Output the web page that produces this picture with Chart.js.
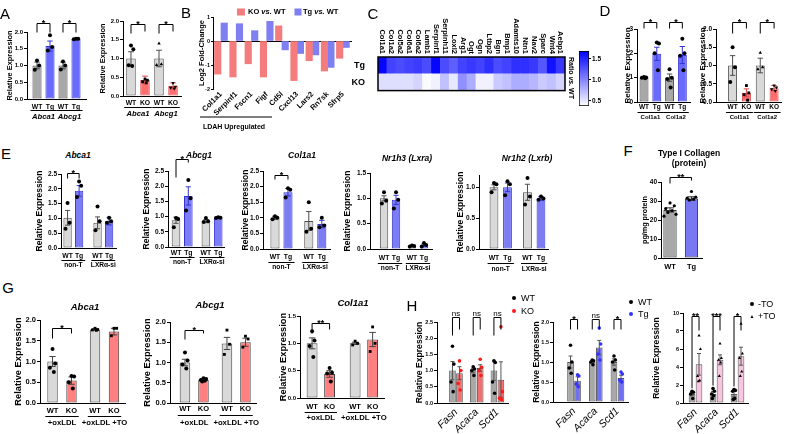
<!DOCTYPE html>
<html lang="en">
<head>
<meta charset="UTF-8">
<title>LDAH expression figure</title>
<script src="https://cdn.jsdelivr.net/npm/chart.js"></script>
<style>
  body { margin: 0; background: #fff; }
  #fig { position: relative; width: 787px; height: 434px; overflow: hidden;
         font-family: 'Liberation Sans', Arial, sans-serif; color: #000; }
  #fig canvas { position: absolute; }
  .lbl { position: absolute; white-space: nowrap; line-height: 1; transform: translate(-50%, -50%); }
  .letter { font-size: 15px; }
  .ttl { font-weight: bold; font-style: italic; font-size: 8.5px; }
  .gttl { font-weight: bold; font-style: italic; font-size: 9.5px; }
  .leg { transform: translate(0, -50%); font-size: 9px; }
</style>
</head>
<body>
<div id="fig"></div>
<script>
// ---------- data ----------
const wtTg = ['WT', 'Tg', 'WT', 'Tg'];
const wtKo = ['WT', 'KO', 'WT', 'KO'];

// A
const aGenes = ['Abca1', 'Abcg1'];
const aTgMeans = [1.0, 1.58, 1.0, 1.79];
const aTgSem = [0.1, 0.15, 0.1, 0.01];
const aTgPoints = [[1.15, 1.0, 0.87], [1.9, 1.55, 1.45], [1.12, 1.0, 0.88], [1.8, 1.8, 1.78]];
const aKoMeans = [1.0, 0.43, 1.0, 0.27];
const aKoSem = [0.18, 0.1, 0.22, 0.08];
const aKoPoints = [[1.35, 1.25, 0.82, 0.8], [0.45, 0.42, 0.38, 0.35], [1.4, 0.85, 0.83], [0.35, 0.25, 0.22, 0.2]];
const aSig = [[0, 1, '*'], [2, 3, '*']];

// B
const bGenes = ['Col1a1', 'Serpinf1', 'Fscn1', 'Figf', 'Cd5l', 'Cxcl13', 'Lars2', 'Rn7sk', 'Sfrp5'];
const bKO = [-1.38, -1.5, -0.95, -1.5, 0.63, -1.65, -0.82, -1.25, -0.72];
const bTg = [0.75, 0.72, 0.43, 0.82, -0.37, -0.52, -0.58, -1.1, -0.27];

// C
const cGenes = ['Col1a1', 'Col1a2', 'Col5a2', 'Col6a1', 'Col6a2', 'Lamb1', 'Serpinf1', 'Serpinh11', 'Loxl2', 'Arg1',
  'Ogt', 'Ogn', 'Ltbp2', 'Bgn', 'Bmp1', 'Adamts10', 'Ntn1', 'Nav2', 'Sparc', 'Wnt4', 'Aebp1'];
const cTg = [1.66, 1.35, 1.3, 1.35, 1.38, 1.3, 1.66, 1.3, 1.2, 1.35, 1.4, 1.35, 1.45, 1.3, 1.35, 1.45, 1.45, 1.4, 1.25, 1.6, 1.4];
const cKO = [0.55, 0.55, 0.55, 0.55, 0.6, 0.4, 0.45, 0.7, 0.5, 0.95, 0.8, 0.45, 0.45, 0.65, 0.7, 0.8, 0.8, 0.75, 0.65, 0.7, 0.6];
const cbRange = [0.38, 1.69];
const cbTicks = [0.5, 1.0, 1.5];

// D
const dGenes = ['Col1a1', 'Col1a2'];
const dTgMeans = [1.0, 1.98, 1.0, 1.93];
const dTgSem = [0.02, 0.27, 0.15, 0.35];
const dTgPoints = [[1.03, 1.01, 1.0, 0.98], [2.45, 2.4, 2.0, 1.3], [1.35, 1.0, 0.95, 0.6], [2.6, 2.0, 1.9, 1.3]];
const dKoMeans = [1.0, 0.25, 1.0, 0.38];
const dKoSem = [0.27, 0.11, 0.2, 0.07];
const dKoPoints = [[1.5, 0.95, 0.55], [0.45, 0.25, 0.2, 0.05], [1.35, 0.95, 0.9], [0.45, 0.4, 0.35, 0.3]];

// E
const eGroups = ['non-T', 'LXR\u03b1-si'];
const eTitles = ['Abca1', 'Abcg1', 'Col1a1', 'Nr1h3 (Lxra)', 'Nr1h2 (Lxrb)'];
const eMeans = [[1.02, 1.93, 0.85, 0.9], [0.88, 1.68, 0.85, 0.97], [1.0, 1.82, 0.9, 0.8], [1.0, 0.97, 0.06, 0.08], [1.0, 1.0, 0.92, 0.82]];
const eSem = [[0.25, 0.18, 0.2, 0.12], [0.1, 0.3, 0.05, 0.02], [0.05, 0.12, 0.3, 0.12], [0.05, 0.09, 0.01, 0.02], [0.04, 0.07, 0.13, 0.03]];
const ePoints = [
  [[1.52, 0.85, 0.65], [2.25, 2.1, 1.72], [1.4, 0.9, 0.6], [1.02, 0.9, 0.85]],
  [[0.95, 0.92, 0.65], [2.2, 1.6, 1.2], [0.95, 0.85, 0.82], [0.98, 0.96, 0.95]],
  [[1.05, 1.0, 0.95], [1.95, 1.9, 1.65], [1.5, 0.65, 0.55], [1.0, 0.75, 0.7]],
  [[1.12, 0.95, 0.9], [1.12, 0.97, 0.8], [0.07, 0.06, 0.05], [0.12, 0.08, 0.05]],
  [[1.07, 1.05, 0.92], [1.1, 1.05, 0.87], [1.15, 0.85, 0.72], [0.85, 0.82, 0.8]]];
const eSig = [[[0, 1, '*']], [[0, 1, '*']], [[0, 1, '*']], [], []];

// F
const fLabels = ['WT', 'Tg'];
const fMeans = [25.3, 31.3];
const fSem = [1.1, 0.9];
const fPoints = [[29, 27.5, 26, 25, 24, 23, 22], [35, 32, 31.5, 31, 30.5]];
const fSig = [[0, 1, '**']];

// G
const gGroups = ['+oxLDL', '+oxLDL +TO'];
const gTitles = ['Abca1', 'Abcg1', 'Col1a1'];
const gMeans = [[1.0, 0.54, 1.77, 1.72], [1.0, 0.57, 1.47, 1.5], [1.0, 0.44, 1.0, 1.07]];
const gSem = [[0.12, 0.09, 0.02, 0.08], [0.08, 0.02, 0.15, 0.1], [0.1, 0.06, 0.02, 0.13]];
const gPoints = [
  [[1.3, 0.95, 0.85, 0.75], [0.65, 0.64, 0.5, 0.35], [1.8, 1.77, 1.76, 1.75], [1.8, 1.8, 1.62]],
  [[1.25, 1.05, 0.95, 0.85], [0.61, 0.59, 0.57, 0.55, 0.53], [1.8, 1.45, 1.2], [1.65, 1.58, 1.38]],
  [[1.22, 1.05, 0.95, 0.75], [0.55, 0.46, 0.45, 0.3], [1.04, 1.0, 0.97], [1.3, 1.0, 0.85]]];
const gSig = [[[0, 1, '*']], [[0, 1, '*']], [[0, 1, '**']]];

// H
const hGenes = ['Fasn', 'Acaca', 'Scd1'];
const hMeans = [[1.0, 0.92, 1.0, 1.08, 1.0, 0.72], [1.0, 0.53, 1.0, 1.36, 1.0, 0.6], [1.0, 4.3, 1.0, 4.8, 1.0, 5.2]];
const hSem = [[0.28, 0.2, 0.07, 0.1, 0.3, 0.55], [0.15, 0.1, 0.03, 0.18, 0.08, 0.07], [0.2, 1.2, 0.3, 0.55, 0.3, 1.0]];
const hPoints = [
  [[1.75, 1.2, 0.65, 0.35], [1.3, 1.0, 0.6, 0.4], [1.12, 1.05, 1.0, 0.85], [1.35, 1.1, 1.0, 0.85], [1.3, 1.25, 0.65, 0.3], [2.35, 0.35, 0.15, 0.1]],
  [[1.42, 1.0, 0.85, 0.72], [0.68, 0.65, 0.45, 0.38], [1.05, 1.03, 1.0, 0.93], [1.85, 1.45, 1.2, 1.05], [1.15, 1.05, 1.0, 0.8], [0.75, 0.7, 0.55, 0.5]],
  [[1.3, 1.2, 1.0, 0.5], [7.5, 6.0, 3.0, 2.5, 2.4], [1.6, 1.3, 1.0, 0.8, 0.5], [6.6, 5.0, 4.8, 4.5, 3.0], [1.5, 1.4, 1.3, 0.5, 0.4], [8.8, 5.5, 5.0, 3.5, 3.0]]];
const hSig = [
  [[0, 1, 'ns'], [2, 3, 'ns'], [4, 5, 'ns']],
  [[0, 1, '*'], [2, 3, 'ns'], [4, 5, '*']],
  [[0, 1, '**'], [2, 3, '***'], [4, 5, '*']]];

// ---------- helpers ----------
const FAM = "'Liberation Sans', Arial, sans-serif";
Chart.defaults.font.family = FAM;
Chart.defaults.color = '#000';

const fig = document.getElementById('fig');
const JIT = [0, 1, -1, 0.5, -0.5, 1.4, -1.4];
const GRAY = '#a8a8a8', LGRAY = '#d9d9d9', BLUE = '#6a6aff', EBLUE = '#7c7cf4', RED = '#ff6e6e', GRED = '#ff8080', PINK = '#f8c6e0';
const GE = '#4d4d4d', BE = '#3434d0', RE = '#d94a4a';

function place(x, y, w, h) {
  const c = document.createElement('canvas');
  c.width = w; c.height = h;
  c.style.left = x + 'px'; c.style.top = y + 'px';
  c.style.width = w + 'px'; c.style.height = h + 'px';
  fig.appendChild(c);
  return c;
}

function txt(html, cx, cy, cls, css) {
  const el = document.createElement('div');
  el.className = 'lbl ' + (cls || '');
  el.innerHTML = html;
  el.style.left = cx + 'px';
  el.style.top = cy + 'px';
  if (css) el.style.cssText += css;
  fig.appendChild(el);
}

function heat(v) {
  const t = Math.min(1, Math.max(0, (v - cbRange[0]) / (cbRange[1] - cbRange[0])));
  const c = Math.round(255 * (1 - t));
  return `rgb(${c},${c},255)`;
}

// error bars, significance brackets and group labels
const decor = {
  id: 'decor',
  afterDatasetDraw(chart, args, o) {
    if (args.index !== 0 || !o.sem) return;
    const ctx = chart.ctx, ys = chart.scales.y;
    ctx.save();
    ctx.lineWidth = 1;
    args.meta.data.forEach((bar, i) => {
      const top = ys.getPixelForValue(o.means[i] + o.sem[i]);
      const bot = ys.getPixelForValue(Math.max(0, o.means[i] - o.sem[i]));
      const w = bar.width * 0.3;
      ctx.strokeStyle = o.eb[i];
      ctx.beginPath();
      ctx.moveTo(bar.x, top); ctx.lineTo(bar.x, bot);
      ctx.moveTo(bar.x - w, top); ctx.lineTo(bar.x + w, top);
      ctx.moveTo(bar.x - w, bot); ctx.lineTo(bar.x + w, bot);
      ctx.stroke();
    });
    ctx.restore();
  },
  afterDraw(chart, args, o) {
    const ctx = chart.ctx, area = chart.chartArea, ys = chart.scales.y;
    const bars = chart.getDatasetMeta(0).data;
    ctx.save();
    ctx.strokeStyle = '#000'; ctx.fillStyle = '#000'; ctx.lineWidth = 1;
    ctx.textAlign = 'center';
    (o.groups || []).forEach((g, k) => {
      const a = bars[k * 2], b = bars[k * 2 + 1];
      const x1 = a.x - a.width / 2 - 2, x2 = b.x + b.width / 2 + 2;
      const y = Math.round(area.bottom + o.lineOff) + 0.5;
      ctx.beginPath(); ctx.moveTo(x1, y); ctx.lineTo(x2, y); ctx.stroke();
      ctx.font = o.groupFont;
      ctx.textBaseline = 'middle';
      ctx.fillText(g, (x1 + x2) / 2, area.bottom + o.textOff);
    });
    (o.sig || []).forEach(([i, j, t]) => {
      const x1 = bars[i].x, x2 = bars[j].x;
      const y = Math.round(area.top - o.sigUp) + 0.5;
      const leg = (k, n) => n === 'a'
        ? ys.getPixelForValue(Math.max(...o.points[k], o.means[k] + o.sem[k])) - 3
        : y + n;
      ctx.beginPath();
      ctx.moveTo(x1, leg(i, o.legs[0])); ctx.lineTo(x1, y); ctx.lineTo(x2, y); ctx.lineTo(x2, leg(j, o.legs[1]));
      ctx.stroke();
      ctx.font = t === 'ns' ? `8px ${FAM}` : `bold 9px ${FAM}`;
      ctx.textBaseline = 'alphabetic';
      ctx.fillText(t, (x1 + x2) / 2, t === 'ns' ? y - 2 : y + 2);
    });
    ctx.restore();
  }
};

function yTicksFor(min, max, step) {
  const out = [];
  for (let v = min; v <= max + 1e-9; v += step) out.push({ value: +v.toFixed(4) });
  return out;
}

// one bar panel with dots, error bars, brackets
function barPanel(d, s) {
  const W = s.yW + (s.R - s.L) + s.right;
  const H = s.top + (s.B - s.T) + s.bottom;
  const cv = place(s.L - s.yW, s.T - s.top, W, H);
  const xs = d.means.map((_, i) => i + Math.floor(i / 2) * s.gap);
  const byGroup = !!s.rot;
  const tickVals = byGroup ? d.groups.map((_, g) => (xs[g * 2] + xs[g * 2 + 1]) / 2) : xs;
  const tickText = byGroup ? d.groups : d.labels;
  const pts = [];
  d.points.forEach((arr, i) => arr.forEach((v, j) => pts.push({ x: xs[i] + JIT[j] * s.jit, y: v, bar: i })));
  const shape = i => (s.shapes ? s.shapes[i] : 'circle');
  const yT = yTicksFor(0, s.yMax, s.step);
  const tf = s.titleFont;
  const titlePad = Math.max(0, s.titleX - (s.L - s.yW) - tf * 0.6);
  new Chart(cv, {
    type: 'bar',
    data: {
      datasets: [{
        data: xs.map((x, i) => ({ x, y: d.means[i] })),
        backgroundColor: s.fill, borderColor: s.edge, borderWidth: 1, borderSkipped: false,
        barPercentage: s.bp, categoryPercentage: 1, order: 2
      }, {
        type: 'scatter', data: pts, order: 1,
        pointRadius: s.pr, pointBorderWidth: 0,
        pointStyle: c => (c.raw && shape(c.raw.bar) === 'tri-inv') ? 'triangle' : (c.raw ? shape(c.raw.bar) : 'circle'),
        pointRotation: c => (c.raw && shape(c.raw.bar) === 'tri-inv') ? 180 : 0,
        pointBackgroundColor: c => c.raw ? s.dot[c.raw.bar] : '#000'
      }]
    },
    options: {
      responsive: false, animation: false, events: [],
      layout: { padding: { top: s.top, right: s.right, left: 0, bottom: 0 } },
      plugins: {
        legend: { display: false }, tooltip: { enabled: false },
        decor: {
          means: d.means, sem: d.sem, points: d.points, eb: s.edge,
          groups: byGroup ? [] : d.groups, groupFont: s.groupFont, lineOff: s.lineOff, textOff: s.textOff,
          sig: d.sig, sigUp: s.sigUp, legs: s.legs
        }
      },
      scales: {
        x: {
          type: 'linear', min: s.xMin, max: s.xMax, offset: false,
          afterBuildTicks: sc => { sc.ticks = tickVals.map(v => ({ value: v })); },
          afterFit: sc => { sc.height = s.bottom; },
          grid: { display: false, drawTicks: false },
          border: { display: true, color: '#000', width: 1 },
          ticks: {
            autoSkip: false, minRotation: s.rot || 0, maxRotation: s.rot || 0,
            padding: s.lblPad !== undefined ? s.lblPad : s.lblOff - s.lblFont.size * 0.6,
            font: s.lblFont, color: '#000', callback: (v, i) => tickText[i]
          }
        },
        y: {
          min: 0, max: s.yMax,
          afterBuildTicks: sc => { sc.ticks = yT.map(t => ({ value: t.value })); },
          afterFit: sc => { sc.width = s.yW; },
          grid: { drawOnChartArea: false, drawTicks: true, tickLength: 3, color: '#000' },
          border: { color: '#000', width: 1 },
          ticks: { font: { size: s.tickFont, weight: 'bold' }, padding: 1, color: '#000', callback: v => v.toFixed(s.dec) },
          title: {
            display: true, text: s.yTitle || 'Relative Expression', color: '#000',
            font: { size: tf, weight: 'bold' }, padding: { top: titlePad, bottom: 0 }
          }
        }
      }
    },
    plugins: [decor]
  });
}

// ---------- panel B: fold change ----------
function foldPanel() {
  const s = { L: 213, T: 17, R: 352, B: 89, yW: 17, top: 10, bottom: 30, right: 4, gap: 0.35, xMin: -0.73, xMax: 20.7, titleX: 202 };
  const cv = place(s.L - s.yW, s.T - s.top, s.yW + s.R - s.L + s.right, s.top + s.B - s.T + s.bottom);
  const xKO = bGenes.map((_, g) => g * (2 + s.gap));
  const tickVals = xKO.map(x => x + 0.5);
  const yT = yTicksFor(-2, 1, 1);
  const common = { grouped: false, barPercentage: 1, categoryPercentage: 1, borderWidth: 0 };
  new Chart(cv, {
    type: 'bar',
    data: {
      datasets: [
        { label: 'KO vs. WT', data: xKO.map((x, i) => ({ x, y: bKO[i] })), backgroundColor: '#f47c7c', ...common },
        { label: 'Tg vs. WT', data: xKO.map((x, i) => ({ x: x + 1, y: bTg[i] })), backgroundColor: '#7f7ff2', ...common }
      ]
    },
    options: {
      responsive: false, animation: false, events: [],
      layout: { padding: { top: s.top, right: s.right, left: 0, bottom: 0 } },
      plugins: { legend: { display: false }, tooltip: { enabled: false } },
      scales: {
        x: {
          type: 'linear', min: s.xMin, max: s.xMax, offset: false,
          afterBuildTicks: sc => { sc.ticks = tickVals.map(v => ({ value: v })); },
          afterFit: sc => { sc.height = s.bottom; },
          grid: { display: false, drawTicks: false }, border: { display: false },
          ticks: { autoSkip: false, minRotation: 45, maxRotation: 45, padding: 1,
            font: { size: 7.5, weight: 'bold' }, color: '#000', callback: (v, i) => bGenes[i] }
        },
        y: {
          min: -2, max: 1,
          afterBuildTicks: sc => { sc.ticks = yT.map(t => ({ value: t.value })); },
          afterFit: sc => { sc.width = s.yW; },
          grid: { drawOnChartArea: true, color: c => (c.tick && c.tick.value === 0) ? '#000' : 'rgba(0,0,0,0)',
            tickColor: '#000', tickLength: 2 },
          border: { color: '#000' },
          ticks: { font: { size: 5.5, weight: 'bold' }, padding: 1, color: '#000' },
          title: { display: true, text: 'Log2 Fold-Change', color: '#000', font: { size: 7.5, weight: 'bold' },
            padding: { top: s.titleX - (s.L - s.yW) - 4.5, bottom: 0 } }
        }
      }
    }
  });
}

// ---------- panel C: heat map + colour bar ----------
const heatDecor = {
  id: 'heatDecor',
  afterDraw(chart, args, o) {
    const ctx = chart.ctx, a = chart.chartArea, bars = chart.getDatasetMeta(0).data;
    ctx.save();
    ctx.strokeStyle = '#000'; ctx.lineWidth = 1.5;
    ctx.strokeRect(a.left, a.top, a.right - a.left, a.bottom - a.top);
    ctx.fillStyle = '#000';
    ctx.font = `bold 7.5px ${FAM}`;
    ctx.textAlign = 'right'; ctx.textBaseline = 'middle';
    o.labels.forEach((t, i) => {
      ctx.save();
      ctx.translate(bars[i].x, a.top - 3);
      ctx.rotate(Math.PI / 2);
      ctx.fillText(t, 0, 0);
      ctx.restore();
    });
    ctx.restore();
  }
};

function heatPanel() {
  const s = { L: 378, T: 57, R: 565, B: 98, yW: 26, top: 43, bottom: 3, right: 2 };
  const cv = place(s.L - s.yW, s.T - s.top, s.yW + s.R - s.L + s.right, s.top + s.B - s.T + s.bottom);
  const cell = { grouped: false, barPercentage: 1, categoryPercentage: 1, borderWidth: 0 };
  new Chart(cv, {
    type: 'bar',
    data: {
      datasets: [
        { label: 'KO', data: cGenes.map((g, i) => ({ x: i, y: [0, 1] })), backgroundColor: cKO.map(heat), ...cell },
        { label: 'Tg', data: cGenes.map((g, i) => ({ x: i, y: [1, 2] })), backgroundColor: cTg.map(heat), ...cell }
      ]
    },
    options: {
      responsive: false, animation: false, events: [],
      layout: { padding: { top: s.top, right: s.right, left: 0, bottom: s.bottom } },
      plugins: { legend: { display: false }, tooltip: { enabled: false }, heatDecor: { labels: cGenes } },
      scales: {
        x: { type: 'linear', min: -0.5, max: cGenes.length - 0.5, offset: false, display: false },
        y: {
          min: 0, max: 2,
          afterBuildTicks: sc => { sc.ticks = [{ value: 0.5 }, { value: 1.5 }]; },
          afterFit: sc => { sc.width = s.yW; },
          grid: { display: false }, border: { display: false },
          ticks: { font: { size: 9, weight: 'bold' }, padding: 5, color: '#000', callback: v => (v > 1 ? 'Tg' : 'KO') }
        }
      }
    },
    plugins: [heatDecor]
  });

  // colour bar
  const cb = place(576, 45, 27, 67);
  new Chart(cb, {
    type: 'bar',
    data: {
      datasets: [{
        data: [{ x: 0, y: cbRange }], barThickness: 10, borderWidth: 1, borderColor: '#000', borderSkipped: false,
        backgroundColor: c => {
          const a = c.chart.chartArea;
          if (!a) return heat(1);
          const g = c.chart.ctx.createLinearGradient(0, a.bottom, 0, a.top);
          g.addColorStop(0, heat(cbRange[0])); g.addColorStop(1, heat(cbRange[1]));
          return g;
        }
      }]
    },
    options: {
      responsive: false, animation: false, events: [],
      layout: { padding: { top: 6, right: 0, left: 3, bottom: 6 } },
      plugins: { legend: { display: false }, tooltip: { enabled: false } },
      scales: {
        x: { type: 'linear', min: -0.5, max: 0.5, display: false },
        y: {
          position: 'right', min: cbRange[0], max: cbRange[1],
          afterBuildTicks: sc => { sc.ticks = cbTicks.map(v => ({ value: v })); },
          afterFit: sc => { sc.width = 14; },
          grid: { drawOnChartArea: false, drawTicks: true, tickLength: 2, color: '#000' },
          border: { display: false },
          ticks: { font: { size: 6.5, weight: 'bold' }, padding: 1, color: '#000', callback: v => v.toFixed(1) }
        }
      }
    }
  });
}

// ---------- build ----------
const black = n => Array(n).fill('#000');
const aBase = { right: 4, jit: 0.17, pr: 2, dec: 1, step: 0.5, tickFont: 6, titleFont: 7.4,
  lblFont: { size: 6.8, weight: 'bold' }, groupFont: `italic bold 7.7px ${FAM}`, gap: 0, dot: black(4) };
barPanel({ labels: wtTg, means: aTgMeans, sem: aTgSem, points: aTgPoints, groups: aGenes, sig: aSig },
  { ...aBase, L: 27, T: 32, R: 86, B: 99, yW: 27, top: 24, bottom: 25, titleX: 10, xMin: -0.77, xMax: 3.77, bp: 0.7, yMax: 2,
    fill: [GRAY, BLUE, GRAY, BLUE], edge: [GE, BE, GE, BE], lblOff: 7.7, lineOff: 11, textOff: 18, sigUp: 9.5, legs: [9, 9] });
barPanel({ labels: wtKo, means: aKoMeans, sem: aKoSem, points: aKoPoints, groups: aGenes, sig: aSig },
  { ...aBase, L: 123, T: 21, R: 181, B: 96, yW: 28, top: 16, bottom: 24, titleX: 103, xMin: -0.57, xMax: 3.57, bp: 0.68, yMax: 2,
    fill: [LGRAY, RED, LGRAY, RED], edge: [GE, RE, GE, RE], shapes: ['circle', 'rect', 'triangle', 'tri-inv'],
    lblOff: 6.7, lineOff: 10.7, textOff: 17.5, sigUp: -3, legs: [9, 7] });

foldPanel();
heatPanel();

const dBase = { ...aBase, tickFont: 6.5, titleFont: 8, lblFont: { size: 6.5, weight: 'bold' }, groupFont: `bold 6px ${FAM}` };
barPanel({ labels: wtTg, means: dTgMeans, sem: dTgSem, points: dTgPoints, groups: dGenes, sig: aSig },
  { ...dBase, L: 637, T: 29, R: 690, B: 102, yW: 17, top: 19, bottom: 22, titleX: 628, xMin: -0.55, xMax: 3.6, bp: 0.7,
    yMax: 3, step: 1, dec: 0, fill: [GRAY, BLUE, GRAY, BLUE], edge: [GE, BE, GE, BE],
    lblOff: 5.3, lineOff: 10.3, textOff: 15.3, sigUp: 7, legs: [6, 6] });
barPanel({ labels: wtKo, means: dKoMeans, sem: dKoSem, points: dKoPoints, groups: dGenes, sig: aSig },
  { ...dBase, L: 716, T: 29, R: 781, B: 102, yW: 20, top: 19, bottom: 22, titleX: 703, xMin: -1.2, xMax: 3.5, bp: 0.65,
    yMax: 2, fill: [LGRAY, RED, LGRAY, RED], edge: [GE, RE, GE, RE], shapes: ['circle', 'rect', 'triangle', 'tri-inv'],
    lblOff: 5.3, lineOff: 10.3, textOff: 15.3, sigUp: 7, legs: [11, 6] });

const eBase = { ...aBase, tickFont: 6.5, titleFont: 8.5, lblFont: { size: 6.8, weight: 'bold' }, groupFont: `bold 6.6px ${FAM}`,
  fill: [LGRAY, EBLUE, LGRAY, EBLUE], edge: [GE, BE, GE, BE], jit: 0.18 };
const eStyles = [
  { L: 61, T: 174, R: 116, B: 248, yW: 29, top: 12, bottom: 24, titleX: 40, xMin: -0.57, xMax: 4.2, gap: 0.6, bp: 0.72, yMax: 2.5,
    lblOff: 8, lineOff: 12, textOff: 17, sigUp: 1, legs: [5, 5] },
  { L: 168, T: 171, R: 224, B: 247, yW: 28, top: 18, bottom: 24, titleX: 147, xMin: -0.65, xMax: 3.9, gap: 0.43, bp: 0.7, yMax: 2.5,
    lblOff: 6, lineOff: 10, textOff: 15, sigUp: 12, legs: [18, 3] },
  { L: 263, T: 171, R: 330, B: 249, yW: 23, top: 10, bottom: 24, titleX: 246, xMin: -0.92, xMax: 4.23, gap: 0.6, bp: 0.7, yMax: 2.5,
    lblOff: 8, lineOff: 13, textOff: 18, sigUp: -4, legs: [4, 4] },
  { L: 370, T: 173, R: 432, B: 249, yW: 27, top: 8, bottom: 25, titleX: 348, xMin: -1.17, xMax: 4.0, gap: 0.33, bp: 0.7, yMax: 1.5,
    lblOff: 9, lineOff: 14, textOff: 19 },
  { L: 479, T: 175, R: 548, B: 249, yW: 23, top: 8, bottom: 25, titleX: 461, xMin: -1.11, xMax: 4.0, gap: 0.48, bp: 0.65, yMax: 1.2,
    lblOff: 9, lineOff: 14, textOff: 20 }];
eStyles.forEach((st, k) => barPanel(
  { labels: wtTg, means: eMeans[k], sem: eSem[k], points: ePoints[k], groups: eGroups, sig: eSig[k] },
  { ...eBase, ...st }));

barPanel({ labels: fLabels, means: fMeans, sem: fSem, points: fPoints, groups: [], sig: fSig },
  { ...eBase, L: 661, T: 182, R: 702, B: 258, yW: 24, top: 12, bottom: 16, titleX: 645, xMin: -0.42, xMax: 1.49, bp: 0.62,
    yMax: 40, step: 10, dec: 0, yTitle: 'pg/mg protein', titleFont: 7.2, fill: [GRAY, '#7878f0'], edge: ['#333', '#222'],
    lblFont: { size: 7.5, weight: 'bold' }, lblOff: 9, sigUp: 5, legs: [6, 3], jit: 0.2, pr: 1.6, dot: black(2) });

const gBase = { ...aBase, tickFont: 7.5, titleFont: 9.3, lblFont: { size: 7.5, weight: 'bold' }, groupFont: `bold 7.7px ${FAM}`,
  fill: [LGRAY, GRED, LGRAY, GRED], edge: ['#444', '#444', '#444', '#444'], shapes: ['circle', 'circle', 'rect', 'rect'], jit: 0.14 };
const gStyles = [
  { L: 40, T: 320, R: 125, B: 403, yW: 30, top: 6, bottom: 28, titleX: 18, xMin: -0.66, xMax: 3.82, gap: 0.24, bp: 0.55, yMax: 2,
    lblOff: 8, lineOff: 13, textOff: 20, sigUp: -8, legs: [10, 5] },
  { L: 170, T: 322, R: 256, B: 403, yW: 30, top: 6, bottom: 28, titleX: 147, xMin: -0.81, xMax: 3.84, gap: 0.27, bp: 0.57, yMax: 2,
    lblOff: 6, lineOff: 12, textOff: 20, sigUp: -8, legs: [9, 3] },
  { L: 300, T: 316, R: 384, B: 398, yW: 23, top: 6, bottom: 33, titleX: 283, xMin: -0.69, xMax: 4.11, gap: 0.46, bp: 0.62, yMax: 1.5,
    tickFont: 6, lblOff: 9, lineOff: 14, textOff: 20, sigUp: -7, legs: [10, 6] }];
gStyles.forEach((st, k) => barPanel(
  { labels: wtKo, means: gMeans[k], sem: gSem[k], points: gPoints[k], groups: gGroups, sig: gSig[k] },
  { ...gBase, ...st }));

const hBase = { ...aBase, rot: 45, bp: 0.95, jit: 0.2, pr: 1.8, tickFont: 5.5, titleFont: 8.6,
  lblFont: { size: 10.5, style: 'italic', weight: 'normal' }, lblPad: 3, edge: Array(6).fill('#555') };
const hStyles = [
  { L: 437, T: 322, R: 508, B: 403, yW: 23, top: 16, bottom: 31, titleX: 420, xMin: -2.21, xMax: 7.93, gap: 0.96, yMax: 2.5,
    fill: [GRAY, '#f07070', GRAY, '#f07070', GRAY, '#f07070'], dot: ['#000', '#ff1a1a', '#000', '#ff1a1a', '#000', '#ff1a1a'],
    sigUp: 5, legs: [18, 12] },
  { L: 553, T: 322, R: 628, B: 402, yW: 22, top: 16, bottom: 31, titleX: 537, xMin: -2.5, xMax: 8.2, gap: 1.1, yMax: 2,
    fill: [GRAY, '#7070f0', GRAY, '#7070f0', GRAY, '#7070f0'], dot: ['#000', '#3333ff', '#000', '#3333ff', '#000', '#3333ff'],
    sigUp: 3, legs: [10, 10] },
  { L: 683, T: 313, R: 748, B: 403, yW: 33, top: 10, bottom: 31, titleX: 657, xMin: -1.29, xMax: 8.0, gap: 1.0, yMax: 10, step: 2, dec: 0,
    fill: [GRAY, PINK, GRAY, PINK, GRAY, PINK], dot: black(6), shapes: ['circle', 'triangle', 'circle', 'triangle', 'circle', 'triangle'],
    sigUp: -3, legs: ['a', 14] }];
hStyles.forEach((st, k) => barPanel(
  { labels: [], means: hMeans[k], sem: hSem[k], points: hPoints[k], groups: hGenes, sig: hSig[k] },
  { ...hBase, ...st }));

// ---------- text: panel letters, titles, legends ----------
[['A', 5, 13], ['B', 186, 12], ['C', 373, 13], ['D', 605, 10], ['E', 6, 153], ['F', 628, 150], ['G', 8, 287], ['H', 412, 305]]
  .forEach(([t, x, y]) => txt(t, x, y, 'letter'));

[[78, 155], [199, 155], [302, 155], [407, 158], [527, 158]].forEach(([x, y], k) => txt(eTitles[k], x, y, 'ttl'));
[[85, 307], [210, 305], [353, 303]].forEach(([x, y], k) => txt(gTitles[k], x, y, 'gttl'));
txt('Type I Collagen', 689, 153, '', 'font-weight:bold;font-size:8.5px');
txt('(protein)', 689, 163, '', 'font-weight:bold;font-size:8.5px');

// B legend and bracket label
txt('', 241, 12, '', 'width:8px;height:7px;background:#f47c7c');
txt('KO <i>vs.</i> WT', 248, 12, 'leg', 'font-weight:bold;font-size:7.5px');
txt('', 297.5, 12, '', 'width:7px;height:7px;background:#7f7ff2');
txt('Tg <i>vs.</i> WT', 303, 12, 'leg', 'font-weight:bold;font-size:7.5px');
txt('', 236, 117, '', 'width:72px;height:0;border-top:1px solid #000');
txt('LDAH Upregulated', 234, 126, '', 'font-weight:bold;font-size:7px');

// C colour bar title
txt('Ratio <i>vs.</i> WT', 571, 78, '', 'font-weight:bold;font-size:7px;transform:translate(-50%,-50%) rotate(90deg)');

// H legends
const dotCss = c => `width:4px;height:4px;border-radius:50%;background:${c}`;
txt('', 514, 298, '', dotCss('#000')); txt('WT', 521, 298, 'leg');
txt('', 514, 311, '', dotCss('#ff1a1a')); txt('KO', 521, 311, 'leg');
txt('', 631, 302, '', dotCss('#000')); txt('WT', 638, 302, 'leg');
txt('', 631, 314, '', dotCss('#3333ff')); txt('Tg', 638, 314, 'leg');
txt('', 752, 304, '', dotCss('#000')); txt('-TO', 758, 304, 'leg');
txt('\u25b2', 752, 316, '', 'font-size:5px'); txt('+TO', 758, 316, 'leg');
</script>
</body>
</html>
